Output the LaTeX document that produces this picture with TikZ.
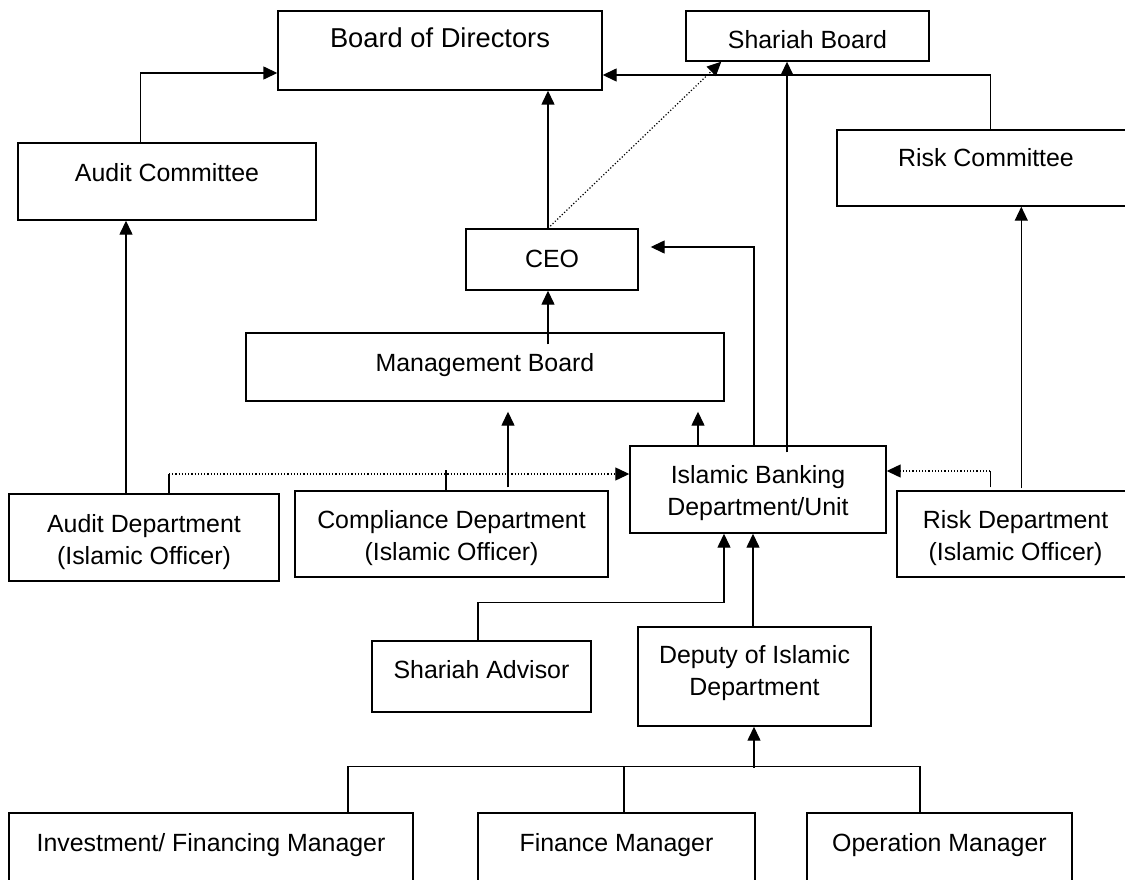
\documentclass[tikz,border=0pt]{standalone}
\usepackage{fontspec}
\setmainfont{Liberation Sans}
\usetikzlibrary{arrows.meta,calc}
\begin{document}
\begin{tikzpicture}[x=1pt,y=-1pt,
  box/.style={draw, line width=1.4pt, inner sep=0pt},
  txt/.style={anchor=base, inner sep=0pt, font=\fontsize{24.9}{30}\selectfont},
  bigtxt/.style={anchor=base, inner sep=0pt, font=\fontsize{27.3}{32}\selectfont},
  arr/.style={line width=1.4pt, -{Triangle[length=14pt,width=13pt]}},
  dotarr/.style={line width=1.2pt, dash pattern=on 1.2pt off 2pt, -{Triangle[length=14pt,width=13pt]}},
  conn/.style={line width=1.3pt}]
\useasboundingbox (0,0) rectangle (1125,880);
\clip (0,0) rectangle (1125,880);

% boxes
\node[box, minimum width=324pt, minimum height=79pt] (bod) at (440,50.5) {};
\node[box, minimum width=243pt, minimum height=50pt] (sb) at (807.5,36) {};
\node[box, minimum width=298pt, minimum height=77pt] (ac) at (167,181.5) {};
\node[box, minimum width=298pt, minimum height=76pt] (rc) at (986,168) {};
\node[box, minimum width=172pt, minimum height=61pt] (ceo) at (552,259.5) {};
\node[box, minimum width=478pt, minimum height=68pt] (mb) at (485,367) {};
\node[box, minimum width=270pt, minimum height=87pt] (ad) at (144,537.5) {};
\node[box, minimum width=313pt, minimum height=86pt] (cd) at (451.5,534) {};
\node[box, minimum width=256pt, minimum height=87pt] (ibd) at (758,489.5) {};
\node[box, minimum width=237pt, minimum height=86pt] (rd) at (1015.5,534) {};
\node[box, minimum width=219pt, minimum height=71pt] (sa) at (481.5,676.5) {};
\node[box, minimum width=233pt, minimum height=99pt] (dep) at (754.5,676.5) {};
\node[box, minimum width=404pt, minimum height=92pt] (im) at (211,859) {};
\node[box, minimum width=277pt, minimum height=92pt] (fm) at (616.5,859) {};
\node[box, minimum width=265pt, minimum height=92pt] (om) at (939.5,859) {};

% texts
\node[bigtxt] (bodt) at (440,48) {Board of Directors};
\node[txt] (sbt) at (807.5,49) {Shariah Board};
\node[txt] (act) at (167,182) {Audit Committee};
\node[txt] (rct) at (986,167) {Risk Committee};
\node[txt] (ceot) at (552,267) {CEO};
\node[txt] (mbt) at (485,371) {Management Board};
\node[txt] (adt1) at (144,532) {Audit Department};
\node[txt] (adt2) at (144,564) {(Islamic Officer)};
\node[txt] (cdt1) at (451.5,528) {Compliance Department};
\node[txt] (cdt2) at (451.5,560) {(Islamic Officer)};
\node[txt] (ibdt1) at (758,483) {Islamic Banking};
\node[txt] (ibdt2) at (758,515) {Department/Unit};
\node[txt] (rdt1) at (1015.5,528) {Risk Department};
\node[txt] (rdt2) at (1015.5,560) {(Islamic Officer)};
\node[txt] (sat) at (481.5,678) {Shariah Advisor};
\node[txt] (dept1) at (754.5,663) {Deputy of Islamic};
\node[txt] (dept2) at (754.5,695) {Department};
\node[txt] (imt) at (211,851) {Investment/ Financing Manager};
\node[txt] (fmt) at (616.5,851) {Finance Manager};
\node[txt] (omt) at (939.5,851) {Operation Manager};

% connectors
\draw[arr] ([xshift=123pt]ac.north west) |- ([yshift=-22.5pt]bod.west);
\draw[arr] ([xshift=-4pt]ceo.north) -- ([xshift=108pt]bod.south);
\draw[dotarr] ([xshift=-4pt]ceo.north) -- ([xshift=36pt]sb.south west);
\draw[arr] ([xshift=154pt]rc.north west) |- ([yshift=-24.5pt]bod.east);
\draw[arr] ([xshift=63pt,yshift=-12pt]mb.north) -- ([xshift=-4pt]ceo.south);
\draw[arr] ([xshift=-4pt]ibd.north) |- ([xshift=12pt,yshift=12.5pt]ceo.east);
\draw[arr] ([xshift=29pt,yshift=-7pt]ibd.north) -- ([xshift=-20.5pt]sb.south);
\draw[arr] ([xshift=-60pt]ibd.north) -- ([xshift=213pt,yshift=-10pt]mb.south);
\draw[arr] ([xshift=56.5pt,yshift=3pt]cd.north) -- ([xshift=23pt,yshift=-10pt]mb.south);
\draw[arr] ([xshift=-18pt]ad.north) -- ([xshift=-41pt]ac.south);

\coordinate (adtop) at ([xshift=25pt]ad.north);
\coordinate (ibdl) at ([yshift=15.5pt]ibd.west);
\draw[conn] (adtop) -- (adtop |- ibdl);
\draw[dotarr] (adtop |- ibdl) -- (ibdl);
\draw[conn] ([xshift=-5.5pt]cd.north) -- ([xshift=-5.5pt,yshift=20pt]cd.north);

\coordinate (rdtop) at ([xshift=94pt]rd.north west);
\coordinate (ibdr) at ([yshift=18.5pt]ibd.east);
\draw[conn] ([yshift=3pt]rdtop) -- (rdtop |- ibdr);
\draw[dotarr] (rdtop |- ibdr) -- (ibdr);

\draw[arr] ([xshift=125pt,yshift=2pt]rd.north west) -- ([xshift=185pt]rc.south west);

\draw[arr] ([xshift=-3.5pt]sa.north) -- ++(0,-38) -| ([xshift=-34pt]ibd.south);
\draw[arr] ([xshift=-1.5pt]dep.north) -- ([xshift=-5pt]ibd.south);

\draw[conn] ([xshift=137pt]im.north) -- ++(0,-46) -| ([xshift=-19.5pt]om.north);
\draw[conn] ([xshift=7.5pt]fm.north) -- ++(0,-46);
\draw[arr] ([xshift=-0.5pt,yshift=-41pt]dep.south) -- ([xshift=-0.5pt]dep.south);
\end{tikzpicture}
\end{document}
